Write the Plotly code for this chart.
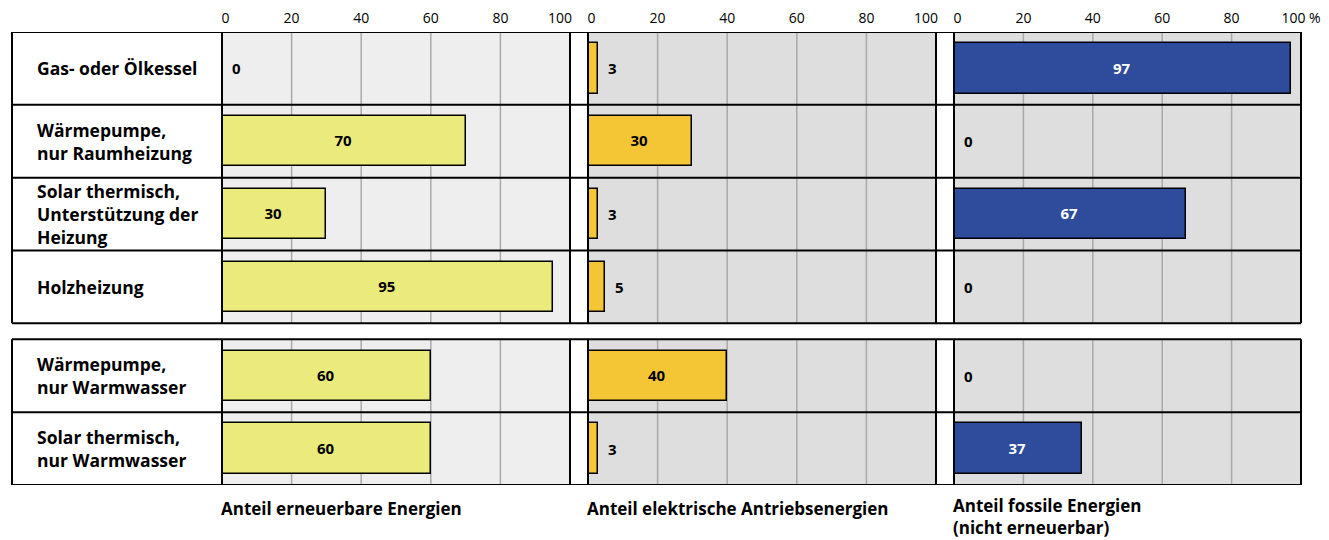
import plotly.graph_objects as go

# ---------------- data ----------------
categories = ["Gas- oder Ölkessel",
              "Wärmepumpe,<br>nur Raumheizung",
              "Solar thermisch,<br>Unterstützung der<br>Heizung",
              "Holzheizung",
              "Wärmepumpe,<br>nur Warmwasser",
              "Solar thermisch,<br>nur Warmwasser"]
groups = [1, 1, 1, 1, 2, 2]
renewable = [0, 70, 30, 95, 60, 60]
electric = [3, 30, 3, 5, 40, 3]
fossil = [97, 0, 67, 0, 0, 37]
panel_titles = ["Anteil erneuerbare Energien",
                "Anteil elektrische Antriebsenergien",
                "Anteil fossile Energien<br>(nicht erneuerbar)"]
tick_vals = [0, 20, 40, 60, 80, 100]
tick_labels = ["0", "20", "40", "60", "80", "100"]

# ---------------- styling ----------------
W, H = 1329, 540
FONT = "Open Sans"
bar_colors = ["#ebeb7d", "#f4c534", "#2f4b9b"]
text_colors = ["black", "black", "white"]
bg_colors = ["#eeeeee", "#dedede", "#dedede"]
grid_color = "#a9a9a9"
GAP = 0.22  # gap between the two groups (in row units)

def px(x):
    return x / W

def py(y):
    return 1 - y / H

label_left, label_right = 12, 222
panel_px = [(222, 570), (588, 936), (954, 1301)]
top_px, bottom_px = 32, 485

ypos = [i + (GAP if g == 2 else 0) for i, g in enumerate(groups)]
group_ranges = []
for g in sorted(set(groups)):
    ys = [y for y, gg in zip(ypos, groups) if gg == g]
    group_ranges.append((min(ys) - 0.5, max(ys) + 0.5))

fig = go.Figure()
series = [renewable, electric, fossil]
axes = ["x", "x2", "x3"]
shapes = []
annotations = []

for k, (vals, ax) in enumerate(zip(series, axes)):
    inside = [str(v) if v >= 10 else "" for v in vals]
    fig.add_trace(go.Bar(
        x=vals, y=ypos, orientation="h", xaxis=ax, yaxis="y",
        width=0.69,
        marker=dict(color=bar_colors[k], line=dict(color="black", width=1.5)),
        text=inside, textposition="inside", insidetextanchor="middle",
        textfont=dict(family=FONT, size=15, color=text_colors[k], weight="bold"),
        constraintext="none", showlegend=False, hoverinfo="skip",
    ))
    for v, y in zip(vals, ypos):
        if v < 10:
            annotations.append(dict(
                x=v, y=y, xref=ax, yref="y", text=str(v), showarrow=False,
                xanchor="left", xshift=8,
                font=dict(family=FONT, size=15, color="black", weight="bold")))
    for (y0, y1) in group_ranges:
        shapes.append(dict(type="rect", xref=ax, yref="y", x0=0, x1=100,
                           y0=y0, y1=y1, fillcolor=bg_colors[k],
                           line=dict(width=0), layer="below"))
        for t in tick_vals[1:-1]:
            shapes.append(dict(type="line", xref=ax, yref="y", x0=t, x1=t,
                               y0=y0, y1=y1,
                               line=dict(color=grid_color, width=1.5),
                               layer="below"))
    # panel title
    title = panel_titles[k]
    if "<br>" in title:
        pos = dict(y=0, yanchor="bottom")
    else:
        pos = dict(y=py(509), yanchor="middle")
    annotations.append(dict(
        x=px(panel_px[k][0] - 2), xref="paper", yref="paper",
        text=title, showarrow=False, xanchor="left",
        align="left", borderpad=0,
        font=dict(family=FONT, size=17, color="black", weight="bold"), **pos))

for lab, y in zip(categories, ypos):
    annotations.append(dict(
        x=px(35), y=y, xref="paper", yref="y", text=lab, showarrow=False,
        xanchor="left", align="left",
        font=dict(family=FONT, size=17.5, color="black", weight="bold")))

vlines = [label_left, label_right] + [p for pr in panel_px for p in pr][1:]
for (y0, y1) in group_ranges:
    for xv in vlines:
        shapes.append(dict(type="line", xref="paper", yref="y",
                           x0=px(xv), x1=px(xv), y0=y0, y1=y1,
                           line=dict(color="black", width=2), layer="above"))
    rows_in = [y for y in ypos if y0 < y < y1]
    bounds = [y0] + [r + 0.5 for r in rows_in]
    for b in bounds:
        shapes.append(dict(type="line", xref="paper", yref="y",
                           x0=px(label_left), x1=px(panel_px[-1][1]),
                           y0=b, y1=b,
                           line=dict(color="black", width=2), layer="above"))

# tick label placement: end labels nudged inward (pixel shifts -> axis units)
unit_px = (panel_px[0][1] - panel_px[0][0]) / 100.0
def tick_positions(last):
    pos = []
    for t in tick_vals:
        if t == tick_vals[0]:
            pos.append(t + 3.5 / unit_px)
        elif t == tick_vals[-1] and not last:
            pos.append(t - 10 / unit_px)
        else:
            pos.append(t)
    return pos

def tick_text(last):
    out = list(tick_labels)
    if last:
        out[-1] = out[-1] + "\u00a0%"
    return out

xcommon = dict(range=[0, 100], side="top", showgrid=False, zeroline=False,
               showline=False, ticks="", fixedrange=True,
               automargin=False, ticklabelstandoff=5,
               tickfont=dict(family=FONT, size=14, color="black"),
               anchor="y")

fig.update_layout(
    template="none",
    width=W, height=H, autosize=False,
    margin=dict(l=0, r=0, t=0, b=0, pad=0),
    paper_bgcolor="white", plot_bgcolor="white",
    bargap=0,
    xaxis=dict(xcommon, domain=[px(panel_px[0][0]), px(panel_px[0][1])],
               tickvals=tick_positions(False), ticktext=tick_text(False)),
    xaxis2=dict(xcommon, domain=[px(panel_px[1][0]), px(panel_px[1][1])],
                tickvals=tick_positions(False), ticktext=tick_text(False)),
    xaxis3=dict(xcommon, domain=[px(panel_px[2][0]), px(panel_px[2][1])],
                tickvals=tick_positions(True), ticktext=tick_text(True)),
    yaxis=dict(range=[group_ranges[-1][1], group_ranges[0][0]],
               domain=[py(bottom_px), py(top_px)], visible=False,
               fixedrange=True, anchor="x", automargin=False),
    shapes=shapes, annotations=annotations,
)

fig.write_html("out.html",
               config={"displayModeBar": False},
               post_script="document.body.style.margin='0px';"
                           "document.body.style.overflow='hidden';")
